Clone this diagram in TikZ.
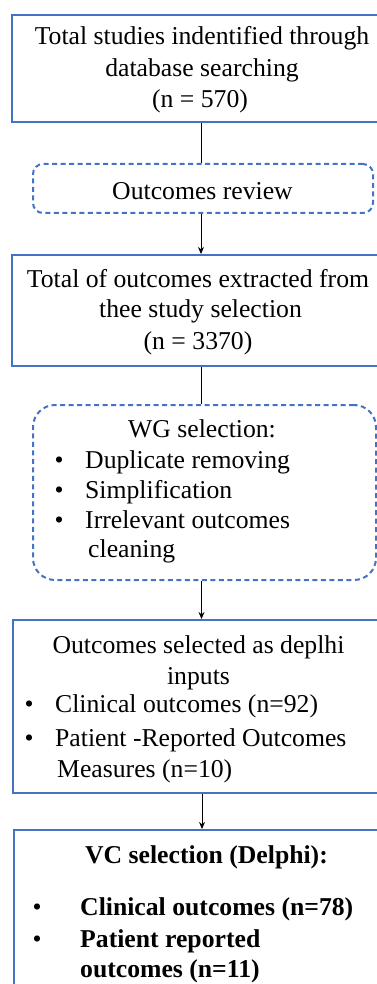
\documentclass[tikz,border=0pt]{standalone}
\usepackage{fontspec}
\setmainfont{Liberation Serif}
\usetikzlibrary{arrows.meta}
\definecolor{wordblue}{HTML}{4472C4}

\begin{document}
\begin{tikzpicture}[
    x=1pt, y=-1pt,
    font=\fontsize{25.7pt}{33pt}\selectfont,
    solidbox/.style={draw=wordblue, line width=2pt, rectangle, inner sep=0pt},
    dashbox/.style={draw=wordblue, line width=2pt, dash pattern=on 5pt off 3.5pt, rectangle, inner sep=0pt},
    plainedge/.style={draw=black, line width=0.9pt},
    flowedge/.style={plainedge, -{Stealth[length=7pt, width=6pt]}},
    line/.style={anchor=base, inner sep=0pt},
    item/.style={anchor=base west, inner sep=0pt},
    dot/.style={anchor=base, inner sep=0pt}
]
\useasboundingbox (0,0) rectangle (377,984);
\clip (0,0) rectangle (377,984);

% boxes
\node[solidbox, minimum width=378pt, minimum height=107pt] (studies) at (201,68.5) {};
\node[dashbox, rounded corners=10pt, minimum width=340pt, minimum height=49pt] (review) at (203,188.5) {};
\node[solidbox, minimum width=378pt, minimum height=111pt] (extracted) at (201,310.5) {};
\node[dashbox, rounded corners=22pt, minimum width=343pt, minimum height=175pt] (wgsel) at (204.5,492.5) {};
\node[solidbox, minimum width=377pt, minimum height=173pt] (inputs) at (201.5,706.5) {};
\node[solidbox, minimum width=376pt, minimum height=180pt] (delphi) at (202,920) {};

% texts
\node[line] (studiesA) at (202,45) {Total studies indentified through};
\node[line] (studiesB) at (202,77) {database searching};
\node[line] (studiesC) at (200,108) {(n = 570)};

\node[line] (reviewA) at (202.5,200) {Outcomes review};

\node[line] (extractedA) at (198,287) {Total of outcomes extracted from};
\node[line] (extractedB) at (200.5,317) {thee study selection};
\node[line] (extractedC) at (198,349) {(n = 3370)};

\node[line] (wgselA) at (202,437) {WG selection:};
\node[dot] (wgdotA) at (59,468) {\textbullet};
\node[item] (wgselB) at (85,468) {Duplicate removing};
\node[dot] (wgdotB) at (59,498) {\textbullet};
\node[item] (wgselC) at (85,498) {Simplification};
\node[dot] (wgdotC) at (59,528) {\textbullet};
\node[item] (wgselD) at (85,528) {Irrelevant outcomes};
\node[item] (wgselE) at (88,557) {cleaning};

\node[line] (inputsA) at (198.5,653) {Outcomes selected as deplhi};
\node[line] (inputsB) at (198.5,684) {inputs};
\node[dot] (indotA) at (29,712) {\textbullet};
\node[item] (inputsC) at (55,712) {Clinical outcomes (n=92)};
\node[dot] (indotB) at (29,746) {\textbullet};
\node[item] (inputsD) at (55,746) {Patient -Reported Outcomes};
\node[item] (inputsE) at (57,777) {Measures (n=10)};

\node[line, font=\fontsize{25.7pt}{33pt}\selectfont\bfseries] (delphiA) at (206.5,863) {VC selection (Delphi):};
\node[dot] (dedotA) at (37,915) {\textbullet};
\node[item, font=\fontsize{25.7pt}{33pt}\selectfont\bfseries] (delphiB) at (80,915) {Clinical outcomes (n=78)};
\node[dot] (dedotB) at (37,947) {\textbullet};
\node[item, font=\fontsize{25.7pt}{33pt}\selectfont\bfseries] (delphiC) at (80,947) {Patient reported};
\node[item, font=\fontsize{25.7pt}{33pt}\selectfont\bfseries] (delphiD) at (80,977) {outcomes (n=11)};

% connectors
\draw[plainedge] (studies.south) -- (studies.south |- review.north);
\draw[flowedge] (review.south -| studies.south) -- (studies.south |- extracted.north);
\draw[plainedge] (extracted.south) -- (extracted.south |- wgsel.north);
\draw[flowedge] (wgsel.south -| inputs.north) -- (inputs.north);
\draw[flowedge] (inputs.south -| delphi.north) -- (delphi.north);

\end{tikzpicture}
\end{document}
